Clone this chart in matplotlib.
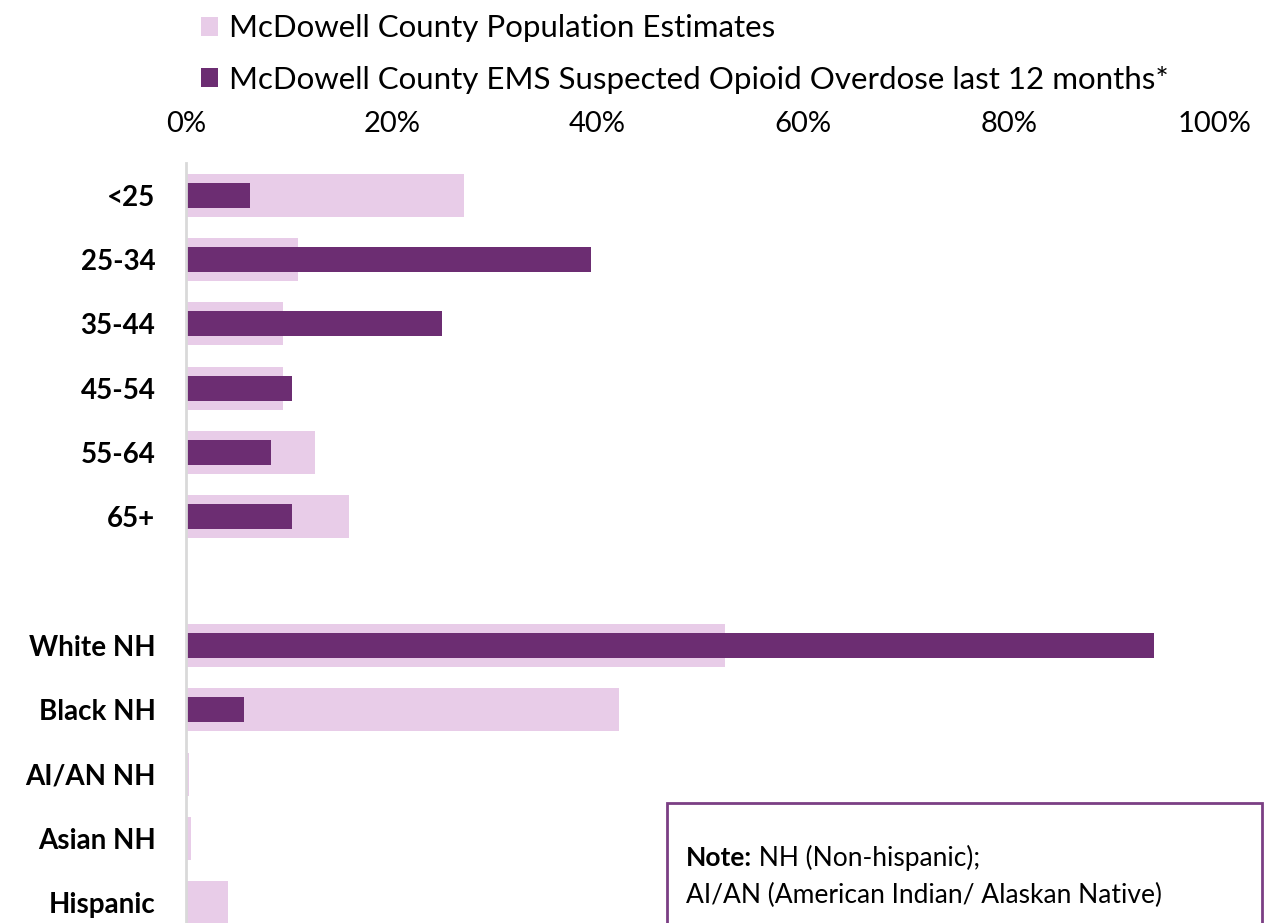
import matplotlib
matplotlib.use("Agg")
import matplotlib.pyplot as plt
from matplotlib.patches import Rectangle

plt.rcParams["font.family"] = ["Lato", "DejaVu Sans"]

# Data (share of total, %)
categories = ["<25", "25-34", "35-44", "45-54", "55-64", "65+", "",
              "White NH", "Black NH", "AI/AN NH", "Asian NH", "Hispanic"]
population = [27.0, 10.9, 9.4, 9.4, 12.5, 15.8, 0,
              52.4, 42.1, 0.3, 0.5, 4.1]
ems_overdose = [6.2, 39.4, 24.9, 10.3, 8.3, 10.3, 0,
                94.1, 5.6, 0, 0, 0]
x_ticks = [0, 20, 40, 60, 80, 100]
x_labels = ["0%", "20%", "40%", "60%", "80%", "100%"]

pop_label = "McDowell County Population Estimates"
ems_label = "McDowell County EMS Suspected Opioid Overdose last 12 months*"

light = "#E8CCE8"
dark = "#6C2D72"

W, H = 1275, 923
fig = plt.figure(figsize=(W / 100, H / 100), dpi=100)
ax = fig.add_axes([186 / W, -12 / H, 1029 / W, 772 / H])

pos = list(range(len(categories)))
b1 = ax.barh(pos, population, height=0.67, color=light, label=pop_label)
b2 = ax.barh(pos, ems_overdose, height=0.39, color=dark, label=ems_label)

ax.set_ylim(len(categories) - 0.5, -0.5)
ax.set_xlim(0, 100)
ax.set_yticks(pos)
ax.set_yticklabels(categories, fontsize=20, fontweight="bold")
ax.xaxis.tick_top()
ax.set_xticks(x_ticks)
ax.set_xticklabels(x_labels, fontsize=21)
ax.tick_params(axis="both", length=0)
ax.tick_params(axis="x", pad=19)
ax.tick_params(axis="y", pad=22)

for s in ["top", "right", "bottom"]:
    ax.spines[s].set_visible(False)
ax.spines["left"].set_color("#D9D9D9")
ax.spines["left"].set_linewidth(2)

# legend at the top
fig.legend(handles=[b1, b2], labels=[pop_label, ems_label],
           loc="upper left", bbox_to_anchor=(188 / W, 1 - 2 / H),
           frameon=False, fontsize=22.5, handlelength=0.55, handleheight=0.55,
           handletextpad=0.35, labelspacing=0.75, borderaxespad=0)

# note box
fig.patches.append(Rectangle((667 / W, -0.05), (1262 - 667) / W, (1 - 803 / H) + 0.05,
                             transform=fig.transFigure, fill=False,
                             edgecolor="#7B3F84", linewidth=2))
t = fig.text(686 / W, 1 - 858 / H, "Note:", fontsize=19, fontweight="bold", va="center")
fig.canvas.draw()
ax.annotate(" NH (Non-hispanic);", xy=(1, 0.5), xycoords=t, va="center",
            fontsize=19)
fig.text(686 / W, 1 - 895 / H, "AI/AN (American Indian/ Alaskan Native)",
         fontsize=19, va="center")

fig.savefig("out.png", dpi=100)
